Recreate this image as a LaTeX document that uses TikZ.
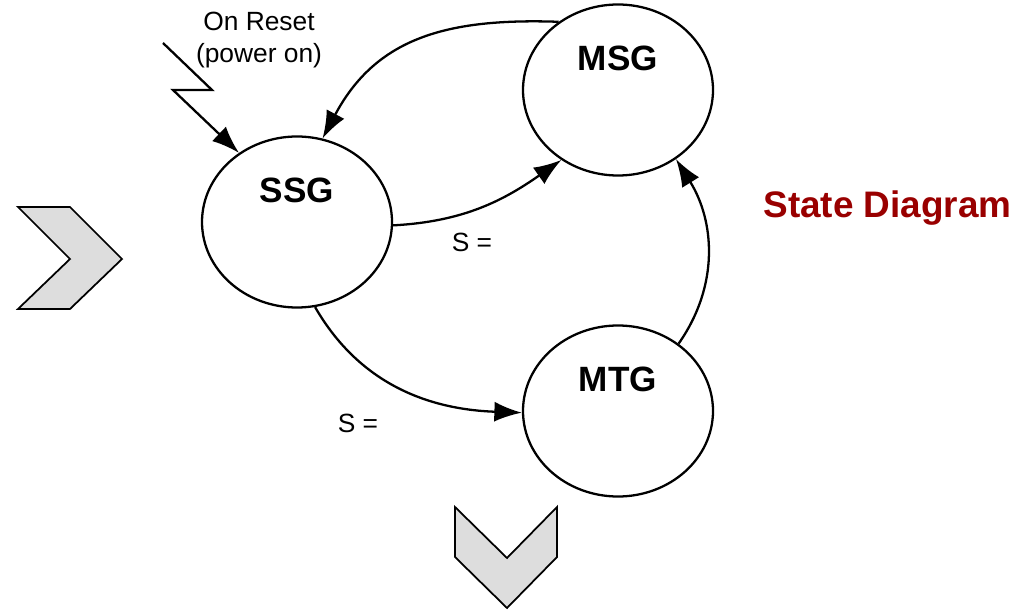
\documentclass[tikz,border=0pt]{standalone}
\usepackage{fontspec}
\setmainfont{Liberation Sans}
\usepackage{tikz}
\usetikzlibrary{arrows.meta,positioning,shapes.geometric}
\definecolor{titlered}{HTML}{990000}
\definecolor{chevgray}{HTML}{DDDDDD}

\begin{document}
\begin{tikzpicture}[
  line width=1.1pt,
  state/.style={ellipse, draw=black, line width=1.3pt, minimum width=3.8cm,
                minimum height=3.42cm, inner sep=0pt},
  statename/.style={font=\bfseries\fontsize{20}{24}\selectfont},
  trans/.style={-{Latex[length=5.5mm,width=4mm]}, line width=1.3pt},
  translabel/.style={font=\fontsize{15}{18}\selectfont},
  chevron/.style={fill=chevgray, draw=black, line width=1pt, line join=miter}
]
  \useasboundingbox (0,0) rectangle (20.38,12.26);

  % States
  \node[state] (ssg) at (5.94, 7.82) {};
  \node[statename] (ssgname) at ([yshift=6.4mm]ssg.center) {SSG};
  \node[state] (msg) at (12.36, 10.46) {};
  \node[statename] (msgname) at ([yshift=6.4mm]msg.center) {MSG};
  \node[state] (mtg) at (12.36, 4.04) {};
  \node[statename] (mtgname) at ([yshift=6.4mm]mtg.center) {MTG};

  % Title
  \node[font=\bfseries\fontsize{21}{25}\selectfont, text=titlered]
       (title) at (17.75, 8.1) {State Diagram};

  % Reset
  \node[font=\fontsize{15}{18}\selectfont, align=center] (reset)
       at (5.18, 11.46) {On Reset\\(power on)};
  \coordinate (bolt) at (3.26, 11.4);
  \draw[trans, line join=miter] (bolt) -- (4.24, 10.46) -- (3.46, 10.46)
       -- (ssg.130);

  % Transitions
  \draw[trans] (msg.131) to[out=178, in=62, looseness=1.1] (ssg.73);
  \draw[trans] (ssg.-2) to[out=3, in=215] (msg.231);
  \node[translabel] (s1) at (9.44, 7.42) {S =};
  \draw[trans] (ssg.-78) to[out=-60, in=178] (mtg.181);
  \node[translabel] (s2) at (7.16, 3.8) {S =};
  \draw[trans] (mtg.48) to[out=55, in=-58] (msg.-50);

  % Chevrons
  \draw[chevron] (0.36,8.12) -- (1.4,8.12) -- (2.44,7.08) -- (1.4,6.08)
       -- (0.36,6.08) -- (1.4,7.08) -- cycle;
  \draw[chevron] (9.1,2.12) -- (10.14,1.1) -- (11.14,2.12) -- (11.14,1.12)
       -- (10.14,0.1) -- (9.1,1.12) -- cycle;
\end{tikzpicture}
\end{document}
